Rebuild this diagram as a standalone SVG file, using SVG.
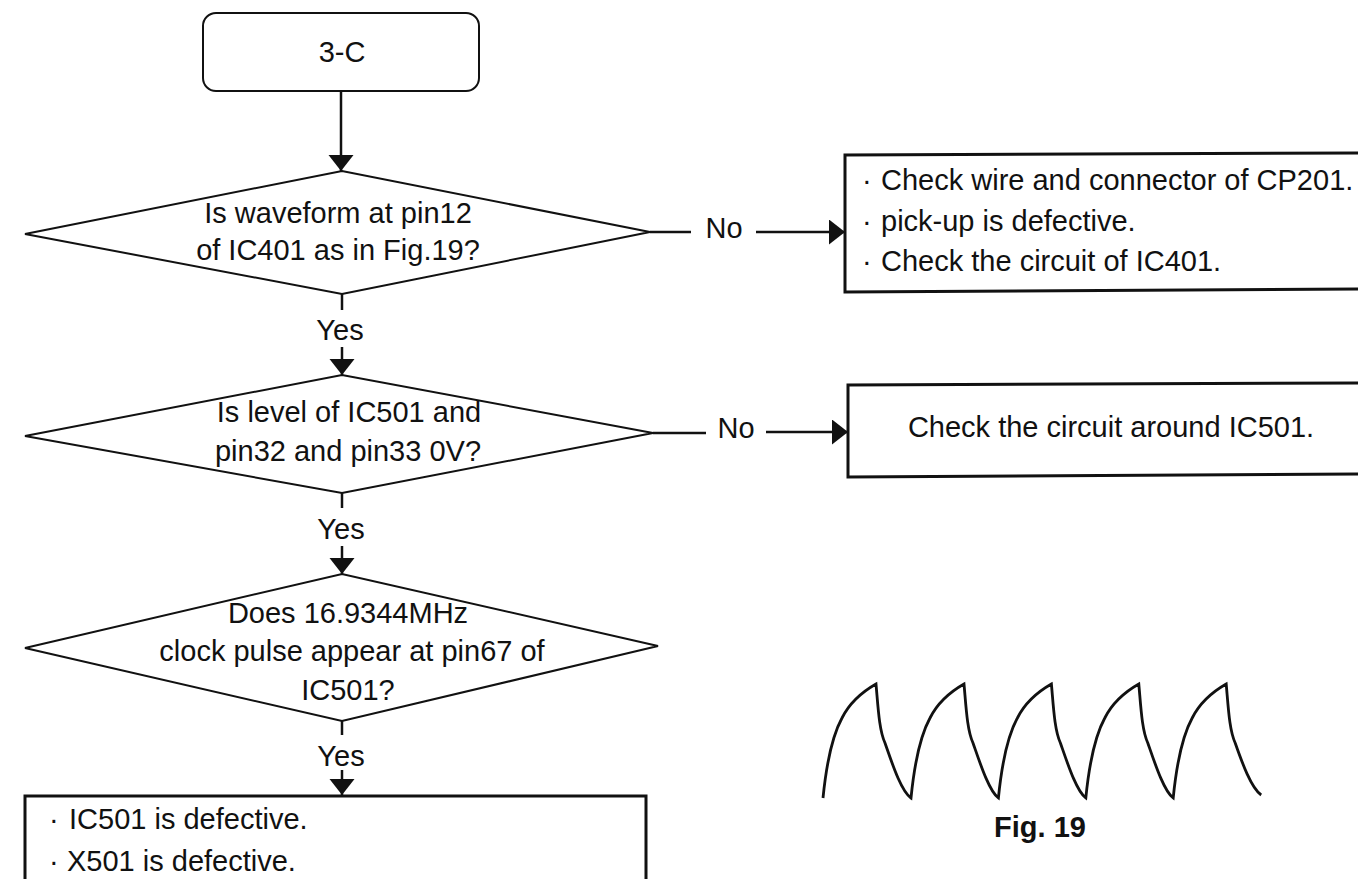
<svg xmlns="http://www.w3.org/2000/svg" width="1358" height="879" viewBox="0 0 1358 879">
<style>
text{font-family:"Liberation Sans",Arial,sans-serif;font-size:29px;fill:#111}
.c{text-anchor:middle}
.s{fill:#fff;stroke:#111;stroke-width:2}
.b{fill:#fff;stroke:#111;stroke-width:3}
.l{fill:none;stroke:#111;stroke-width:2.5}
</style>
<defs><marker id="a" markerUnits="userSpaceOnUse" markerWidth="17" markerHeight="26" refX="16" refY="12.5" orient="auto"><path d="M0 0L16 12.5L0 25Z" fill="#111"/></marker></defs>
<rect width="1358" height="879" fill="#fff"/>
<g id="connectors">
<path class="l" d="M341 91V171" marker-end="url(#a)"/>
<path class="l" d="M342 294V310"/><path class="l" d="M342 347V375" marker-end="url(#a)"/>
<path class="l" d="M342 493V508"/><path class="l" d="M342 546V574" marker-end="url(#a)"/>
<path class="l" d="M342 721V735"/><path class="l" d="M342 770V795" marker-end="url(#a)"/>
<path class="l" d="M650 232H691"/><path class="l" d="M756 232H845" marker-end="url(#a)"/>
<path class="l" d="M653 433H706"/><path class="l" d="M766 432H848" marker-end="url(#a)"/>
</g>
<g id="n1"><rect class="s" x="203" y="13" width="276" height="78" rx="13"/><text class="c" x="342" y="62">3-C</text></g>
<g id="d1"><path class="s" d="M25 234L342 171L650 232L342 294Z"/><text class="c" x="338" y="223">Is waveform at pin12</text><text class="c" x="338" y="260">of IC401 as in Fig.19?</text></g>
<g id="d2"><path class="s" d="M25 436L342 375L653 433L342 493Z"/><text class="c" x="349" y="422">Is level of IC501 and</text><text class="c" x="348" y="461">pin32 and pin33 0V?</text></g>
<g id="d3"><path class="s" d="M25 648L342 574L658 646L342 721Z"/><text class="c" x="348" y="623">Does 16.9344MHz</text><text class="c" x="352" y="661">clock pulse appear at pin67 of</text><text class="c" x="348" y="700">IC501?</text></g>
<g id="yes"><text class="c" x="340" y="340">Yes</text><text class="c" x="341" y="539">Yes</text><text class="c" x="341" y="766">Yes</text></g>
<g id="no"><text class="c" x="724" y="238">No</text><text class="c" x="736" y="438">No</text></g>
<g id="n2"><path class="b" d="M1358 153L845 155V292L1358 289"/><text x="862" y="190">·<tspan x="881">Check wire and connector of CP201.</tspan></text><text x="862" y="231">·<tspan x="881">pick-up is defective.</tspan></text><text x="862" y="271">·<tspan x="881">Check the circuit of IC401.</tspan></text></g>
<g id="n3"><path class="b" d="M1358 383L848 385V477L1358 474"/><text class="c" x="1111" y="437">Check the circuit around IC501.</text></g>
<g id="n4"><path class="b" d="M25 879V796H646V879"/><text x="49" y="829">·<tspan x="69">IC501 is defective.</tspan></text><text x="49" y="871">·<tspan x="67">X501 is defective.</tspan></text></g>
<g id="fig"><path d="M823 798c3-30 8-60 19-80c8-16 20-26 34-34c2 22 3 46 9 59c7 20 16 48 26 55c3-30 8-60 19-80c8-16 20-26 34-34c2 22 3 46 9 59c7 20 16 48 25.400 55c3-30 8-60 19-80c8-16 20-26 34-34c2 22 3 46 9 59c7 20 16 48 25.400 55c3-30 8-60 19-80c8-16 20-26 34-34c2 22 3 46 9 59c7 20 16 48 25.400 55c3-30 8-60 19-80c8-16 20-26 34-34c2 22 3 46 9 59c7 20 16 45 26 52" fill="none" stroke="#111" stroke-width="2.800"/><text class="c" x="1040" y="837" style="font-weight:700">Fig. 19</text></g>
</svg>
